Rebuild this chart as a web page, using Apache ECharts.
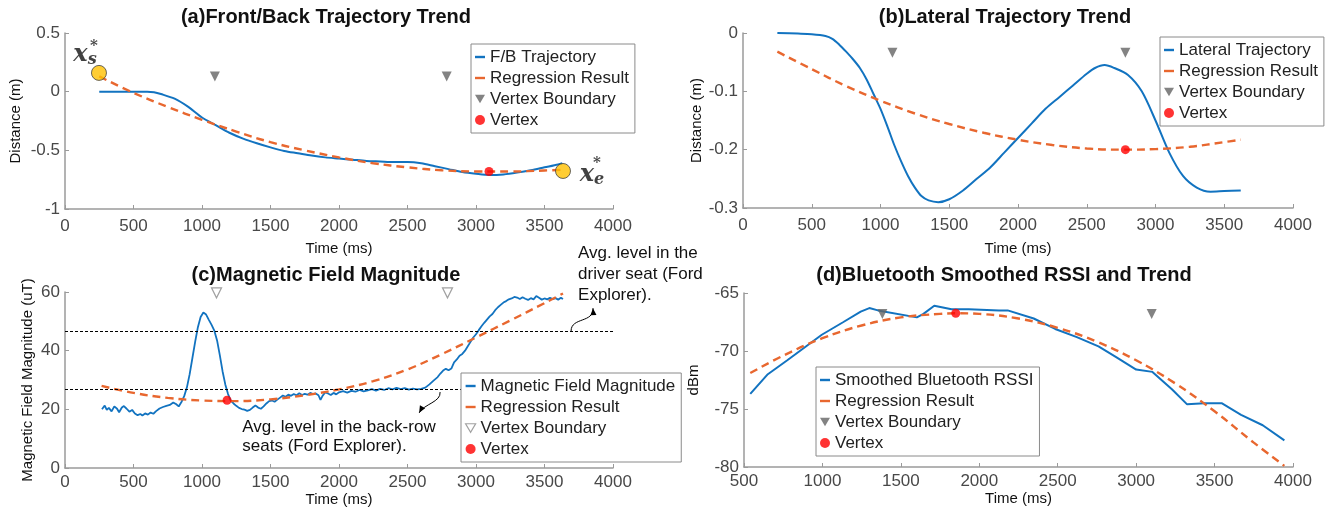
<!DOCTYPE html>
<html>
<head>
<meta charset="utf-8">
<script src="https://cdn.jsdelivr.net/npm/echarts@6.0.0/dist/echarts.min.js"></script>
<style>
  html, body { margin: 0; padding: 0; background: #fff; }
  #chart { width: 1331px; height: 520px; }
</style>
</head>
<body>
<div id="chart"></div>
<script>
// (a) front/back trajectory
const fbTime = [250, 300, 400, 500, 600, 650, 700, 800, 900, 1000, 1100, 1200, 1300, 1400, 1500, 1600, 1700, 1800, 1900, 2000, 2100, 2200, 2300, 2400, 2500, 2600, 2700, 2800, 2900, 3000, 3100, 3200, 3300, 3400, 3500, 3600, 3630]
const fbDist = [0, 0, 0, 0, 0, -0.005, -0.02, -0.06, -0.13, -0.22, -0.285, -0.35, -0.40, -0.44, -0.475, -0.505, -0.525, -0.545, -0.56, -0.57, -0.58, -0.59, -0.595, -0.60, -0.60, -0.61, -0.635, -0.66, -0.685, -0.70, -0.71, -0.705, -0.69, -0.67, -0.645, -0.62, -0.61]
const regATime = [250, 500, 750, 1000, 1250, 1500, 1750, 2000, 2250, 2500, 2750, 3000, 3250, 3500, 3640]
const regAVal = [0.13, -0.01, -0.13, -0.24, -0.34, -0.43, -0.50, -0.56, -0.61, -0.645, -0.67, -0.68, -0.68, -0.672, -0.665]
const boundA = [[1094, 0.13], [2786, 0.13]]
const vertexA = [[3095, -0.68]]
const endsA = [[248, 0.16], [3635, -0.676]]

// (b) lateral trajectory
const latTime = [250, 400, 500, 600, 650, 700, 750, 800, 850, 900, 950, 1000, 1050, 1100, 1150, 1200, 1250, 1300, 1350, 1420, 1500, 1600, 1700, 1800, 1900, 2000, 2100, 2200, 2300, 2400, 2500, 2560, 2630, 2700, 2800, 2900, 3000, 3100, 3200, 3300, 3400, 3500, 3620]
const latDist = [0, -0.001, -0.002, -0.005, -0.01, -0.02, -0.032, -0.045, -0.06, -0.08, -0.105, -0.13, -0.16, -0.192, -0.22, -0.245, -0.265, -0.28, -0.287, -0.29, -0.285, -0.27, -0.25, -0.23, -0.205, -0.18, -0.155, -0.13, -0.11, -0.09, -0.07, -0.06, -0.055, -0.06, -0.072, -0.10, -0.15, -0.205, -0.245, -0.265, -0.272, -0.271, -0.27]
const regBTime = [250, 500, 750, 1000, 1250, 1500, 1750, 2000, 2250, 2500, 2750, 3000, 3250, 3500, 3620]
const regBVal = [-0.032, -0.062, -0.091, -0.116, -0.138, -0.156, -0.171, -0.183, -0.192, -0.198, -0.2, -0.199, -0.195, -0.187, -0.183]
const boundB = [[1087, -0.034], [2781, -0.034]]
const vertexB = [[2781, -0.2]]

// (c) magnetic field magnitude
const magTime = [270, 290, 305, 320, 340, 360, 380, 395, 415, 430, 450, 470, 490, 510, 530, 550, 565, 585, 605, 625, 645, 665, 690, 715, 740, 765, 790, 810, 830, 850, 870, 890, 910, 930, 950, 970, 990, 1010, 1030, 1050, 1070, 1090, 1110, 1130, 1150, 1170, 1190, 1210, 1230, 1250, 1270, 1290, 1310, 1330, 1350, 1370, 1390, 1410, 1430, 1450, 1470, 1490, 1510, 1530, 1550, 1570, 1590, 1610, 1630, 1650, 1670, 1690, 1710, 1730, 1750, 1770, 1790, 1810, 1830, 1850, 1865, 1880, 1900, 1920, 1940, 1960, 1980, 2000, 2030, 2060, 2090, 2120, 2150, 2180, 2210, 2240, 2270, 2300, 2330, 2360, 2390, 2420, 2450, 2480, 2510, 2540, 2570, 2600, 2630, 2660, 2690, 2720, 2740, 2760, 2780, 2800, 2820, 2840, 2860, 2880, 2900, 2920, 2940, 2960, 2980, 3000, 3020, 3040, 3060, 3080, 3100, 3120, 3140, 3160, 3180, 3200, 3220, 3240, 3260, 3280, 3300, 3320, 3340, 3360, 3380, 3400, 3420, 3440, 3460, 3480, 3500, 3520, 3540, 3560, 3580, 3600, 3620, 3635]
const magVal = [20.0, 21.3, 19.8, 20.5, 19.3, 21.0, 20.2, 19.0, 20.6, 21.1, 20.2, 19.2, 19.8, 18.6, 18.0, 18.4, 17.9, 18.6, 18.2, 18.9, 18.5, 19.4, 20.3, 20.8, 21.2, 21.5, 22.3, 21.8, 21.0, 22.5, 24.5, 27.5, 32.0, 37.5, 43.0, 48.0, 51.5, 53.0, 52.3, 50.5, 48.8, 46.8, 43.5, 38.5, 33.0, 28.5, 25.2, 23.0, 22.0, 21.2, 20.5, 20.1, 19.9, 19.5, 19.8, 20.6, 21.3, 20.6, 20.2, 21.0, 22.0, 22.8, 23.0, 22.6, 23.3, 24.0, 24.7, 24.3, 25.0, 24.6, 25.2, 24.8, 25.5, 24.9, 25.3, 25.0, 25.6, 25.2, 25.4, 24.8, 23.2, 24.6, 25.8, 25.4, 24.9, 25.6, 25.1, 25.8, 26.2, 25.7, 26.3, 26.0, 26.6, 26.1, 26.5, 26.9, 26.4, 27.0, 26.6, 27.2, 26.8, 27.3, 26.9, 27.2, 26.7, 27.1, 26.8, 27.0, 27.4, 28.5, 29.8, 31.0, 32.2, 33.2, 33.8, 33.3, 33.9, 36.0, 37.0, 38.3, 38.9, 40.0, 41.5, 43.0, 44.5, 45.6, 47.0, 48.3, 49.5, 50.6, 51.7, 52.5, 53.8, 54.8, 55.6, 56.4, 56.9, 57.5, 57.8, 58.3, 58.1, 57.6, 58.2, 57.7, 57.3, 57.9, 57.5, 58.6, 58.0, 57.4, 57.8, 57.5, 58.0, 57.6, 57.9, 57.4, 58.0, 57.6]
const regCTime = [267, 500, 750, 1000, 1250, 1500, 1750, 2000, 2250, 2500, 2750, 3000, 3250, 3500, 3635]
const regCVal = [28.0, 25.6, 23.9, 23.0, 22.8, 23.4, 24.8, 26.8, 29.6, 33.6, 38.8, 44.5, 50.3, 56.2, 59.5]
const avgLevels = [46.5, 26.8]
const boundC = [[1106, 59.7], [2792, 59.7]]
const vertexC = [[1183, 23.1]]

// (d) bluetooth RSSI
const btTime = [540, 652, 776, 996, 1134, 1244, 1299, 1354, 1602, 1644, 1713, 1823, 1933, 2126, 2181, 2347, 2484, 2622, 2760, 2870, 3000, 3104, 3228, 3325, 3435, 3545, 3669, 3807, 3945]
const btVal = [-73.7, -72.0, -70.8, -68.6, -67.5, -66.6, -66.3, -66.5, -67.1, -66.8, -66.1, -66.4, -66.4, -66.5, -66.5, -67.2, -68.1, -68.8, -69.6, -70.5, -71.6, -71.8, -73.3, -74.6, -74.5, -74.5, -75.5, -76.4, -77.7]
const regDTime = [540, 750, 1000, 1250, 1500, 1750, 1850, 2000, 2250, 2500, 2750, 3000, 3250, 3500, 3750, 3945]
const regDVal = [-71.9, -70.4, -68.9, -67.8, -67.1, -66.8, -66.75, -66.8, -67.2, -68.0, -69.2, -70.8, -72.8, -75.2, -77.9, -79.9]
const boundD = [[1382, -66.8], [3099, -66.8]]
const vertexD = [[1850, -66.75]]

const FONT = '"Liberation Sans", Arial, Helvetica, sans-serif'
const AXC = '#9a9a9a'
const BLUE = '#1273c0'
const ORANGE = '#e8672f'
const LINE_ICON = 'path://M0,0H10V2.4H0Z'
const TRI_ICON = 'path://M0,0L10,0L5,8.5Z'

function zip(xs, ys) {
    return xs.map((x, i) => [x, ys[i]])
}

function tickText(v) {
    return String(Math.round(v * 1000) / 1000)
}

function timeAxis(gi, min, gap, margin) {
    return {
        type: 'value', gridIndex: gi, min: min, max: 4000, interval: 500,
        name: 'Time (ms)', nameLocation: 'middle', nameGap: gap,
        nameTextStyle: { fontSize: 15, color: '#111', fontFamily: FONT },
        axisLine: { show: true, onZero: false, lineStyle: { color: AXC, width: 1.5 } },
        axisTick: { show: true, inside: true, length: 4, lineStyle: { color: AXC } },
        axisLabel: { fontSize: 17, color: '#484848', margin: margin, fontFamily: FONT, formatter: tickText },
        splitLine: { show: false }
    }
}

function valueAxis(gi, name, min, max, step, gap) {
    return {
        type: 'value', gridIndex: gi, min: min, max: max, interval: step,
        name: name, nameLocation: 'middle', nameGap: gap, nameRotate: 90,
        nameTextStyle: { fontSize: 15, color: '#111', fontFamily: FONT },
        axisLine: { show: true, onZero: false, lineStyle: { color: AXC, width: 1.5 } },
        axisTick: { show: true, inside: true, length: 4, lineStyle: { color: AXC } },
        axisLabel: { fontSize: 17, color: '#484848', margin: 5, fontFamily: FONT, formatter: tickText },
        splitLine: { show: false }
    }
}

function curve(name, gi, data, dashed, smooth) {
    const color = dashed ? ORANGE : BLUE
    return {
        type: 'line', name: name, xAxisIndex: gi, yAxisIndex: gi, data: data,
        symbol: 'none', smooth: smooth, z: dashed ? 3 : 2,
        lineStyle: { color: color, width: dashed ? 2.4 : 2, type: dashed ? [8, 5] : 'solid' },
        itemStyle: { color: color }
    }
}

function bounds(name, gi, data, hollow) {
    return {
        type: 'scatter', name: name, xAxisIndex: gi, yAxisIndex: gi, data: data,
        symbol: 'triangle', symbolRotate: 180, symbolSize: 10, z: 4,
        itemStyle: hollow ? { color: '#fff', borderColor: '#8a8a8a', borderWidth: 1.2 } : { color: '#646464' }
    }
}

function vertex(name, gi, data) {
    return {
        type: 'scatter', name: name, xAxisIndex: gi, yAxisIndex: gi, data: data,
        symbol: 'circle', symbolSize: 9, z: 5, itemStyle: { color: '#ff0000' }
    }
}

function legend(left, top, tag, first, hollow) {
    const tri = { name: 'Vertex Boundary#' + tag, icon: TRI_ICON }
    if (hollow) tri.itemStyle = { color: '#fff', borderColor: '#8a8a8a', borderWidth: 1.2 }
    return {
        left: left, top: top, orient: 'vertical', selectedMode: false,
        data: [
            { name: first, icon: LINE_ICON },
            { name: 'Regression Result#' + tag, icon: LINE_ICON },
            tri,
            { name: 'Vertex#' + tag, icon: 'circle' }
        ],
        formatter: n => n.split('#')[0],
        backgroundColor: '#fff', borderColor: '#8a8a8a', borderWidth: 1, borderRadius: 0,
        padding: [4, 6, 4, 4], itemWidth: 10, itemHeight: 10, itemGap: 3, z: 10,
        textStyle: { fontSize: 17, color: '#222', fontFamily: FONT, lineHeight: 18 }
    }
}

function title(text, cx, top) {
    return {
        text: text, left: cx, top: top, textAlign: 'center', padding: 0,
        textStyle: { fontSize: 20, fontWeight: 'bold', color: '#111', fontFamily: FONT }
    }
}

const xFont = { fontFamily: '"DejaVu Serif", serif', fontStyle: 'italic', fontWeight: 'bold', color: '#111' }

const option = {
    animation: false,
    backgroundColor: '#fff',
    title: [
        title('(a)Front/Back Trajectory Trend', 326, 7),
        title('(b)Lateral Trajectory Trend', 1005, 7),
        title('(c)Magnetic Field Magnitude', 326, 265),
        title('(d)Bluetooth Smoothed RSSI and Trend', 1004, 265)
    ],
    grid: [
        { left: 65, top: 33, width: 548, height: 176 },
        { left: 743, top: 33, width: 550, height: 175 },
        { left: 65, top: 292, width: 548, height: 176 },
        { left: 744, top: 293, width: 549, height: 174 }
    ],
    xAxis: [
        timeAxis(0, 0, 32, 9),
        timeAxis(1, 0, 33, 9),
        timeAxis(2, 0, 23, 6),
        timeAxis(3, 500, 23, 6)
    ],
    yAxis: [
        valueAxis(0, 'Distance (m)', -1, 0.5, 0.5, 42),
        valueAxis(1, 'Distance (m)', -0.3, 0, 0.1, 39),
        valueAxis(2, 'Magnetic Field Magnitude (uT)', 0, 60, 20, 30),
        valueAxis(3, 'dBm', -80, -65, 5, 43)
    ],
    legend: [
        legend(471, 44, 'a', 'F/B Trajectory', false),
        legend(1160, 37, 'b', 'Lateral Trajectory', false),
        legend(461, 373, 'c', 'Magnetic Field Magnitude', true),
        legend(816, 367, 'd', 'Smoothed Bluetooth RSSI', false)
    ],
    series: [
        curve('F/B Trajectory', 0, zip(fbTime, fbDist), false, 0.3),
        curve('Regression Result#a', 0, zip(regATime, regAVal), true, 0.4),
        bounds('Vertex Boundary#a', 0, boundA, false),
        vertex('Vertex#a', 0, vertexA),
        {
            type: 'scatter', name: 'ends#a', xAxisIndex: 0, yAxisIndex: 0, z: 6,
            symbol: 'circle', symbolSize: 15,
            itemStyle: { color: '#ffc000', borderColor: '#444', borderWidth: 1 },
            data: [
                { value: endsA[0], label: { show: true, position: 'inside', offset: [-14, -18], formatter: '{x|x}{s|s}' } },
                { value: endsA[1], label: { show: true, position: 'inside', offset: [29, 4], formatter: '{x|x}{s|e}' } }
            ],
            label: {
                rich: {
                    x: Object.assign({ fontSize: 24, lineHeight: 26 }, xFont),
                    s: Object.assign({ fontSize: 16, lineHeight: 26, verticalAlign: 'bottom', padding: [9, 0, 0, 0] }, xFont)
                }
            }
        },
        {
            type: 'scatter', name: 'stars#a', xAxisIndex: 0, yAxisIndex: 0, z: 6,
            symbol: 'circle', symbolSize: 1, itemStyle: { color: 'rgba(0,0,0,0)' },
            data: [
                { value: endsA[0], label: { show: true, position: 'inside', offset: [-5, -27] } },
                { value: endsA[1], label: { show: true, position: 'inside', offset: [34, -8] } }
            ],
            label: Object.assign({ formatter: '*', fontSize: 15 }, xFont)
        },

        curve('Lateral Trajectory', 1, zip(latTime, latDist), false, 0.3),
        curve('Regression Result#b', 1, zip(regBTime, regBVal), true, 0.4),
        bounds('Vertex Boundary#b', 1, boundB, false),
        vertex('Vertex#b', 1, vertexB),

        Object.assign(curve('Magnetic Field Magnitude', 2, zip(magTime, magVal), false, false), {
            lineStyle: { color: BLUE, width: 1.8 },
            markLine: {
                silent: true, symbol: 'none', label: { show: false },
                lineStyle: { color: '#000', type: [3, 2], width: 1 },
                data: avgLevels.map(v => ({ yAxis: v }))
            }
        }),
        curve('Regression Result#c', 2, zip(regCTime, regCVal), true, 0.4),
        bounds('Vertex Boundary#c', 2, boundC, true),
        vertex('Vertex#c', 2, vertexC),

        curve('Smoothed Bluetooth RSSI', 3, zip(btTime, btVal), false, false),
        curve('Regression Result#d', 3, zip(regDTime, regDVal), true, 0.4),
        bounds('Vertex Boundary#d', 3, boundD, false),
        vertex('Vertex#d', 3, vertexD)
    ]
}

const chart = echarts.init(document.getElementById('chart'))
chart.setOption(option)

// annotations for panel (c), anchored to its data coordinates
function px(x, y) {
    return chart.convertToPixel({ gridIndex: 2 }, [x, y])
}

function arrow(s, c1, c2, e) {
    const dx = e[0] - c2[0], dy = e[1] - c2[1]
    const len = Math.sqrt(dx * dx + dy * dy)
    const ux = dx / len, uy = dy / len
    const bx = e[0] - ux * 7, by = e[1] - uy * 7
    return [
        {
            type: 'bezierCurve', silent: true,
            shape: { x1: s[0], y1: s[1], cpx1: c1[0], cpy1: c1[1], cpx2: c2[0], cpy2: c2[1], x2: e[0], y2: e[1] },
            style: { stroke: '#000', lineWidth: 1, fill: null }
        },
        {
            type: 'polygon', silent: true,
            shape: { points: [[e[0], e[1]], [bx - uy * 3, by + ux * 3], [bx + uy * 3, by - ux * 3]] },
            style: { fill: '#000' }
        }
    ]
}

const backStart = px(2738, 25.9), backEnd = px(2585, 18.8)
const drvStart = px(3694, 46.7), drvEnd = px(3854, 54.5)
const backText = px(1294, 17.0), drvText = px(3745, 76.7)

chart.setOption({
    graphic: [
        {
            type: 'text', silent: true, x: backText[0], y: backText[1],
            style: { text: 'Avg. level in the back-row\nseats (Ford Explorer).', fontSize: 17, fontFamily: FONT, fill: '#111', lineHeight: 19, align: 'left', verticalAlign: 'top' }
        },
        {
            type: 'text', silent: true, x: drvText[0], y: drvText[1],
            style: { text: 'Avg. level in the\ndriver seat (Ford\nExplorer).', fontSize: 17, fontFamily: FONT, fill: '#111', lineHeight: 21, align: 'left', verticalAlign: 'top' }
        }
    ]
        .concat(arrow(backStart, [backStart[0] + 1, backStart[1] + 10], [backEnd[0] + 5, backEnd[1] - 9], backEnd))
        .concat(arrow(drvStart, [drvStart[0] + 0, drvStart[1] - 14], [drvEnd[0] + 1, drvEnd[1] + 15], drvEnd))
})

window.addEventListener('resize', () => {
    chart.resize()
})
</script>
</body>
</html>
